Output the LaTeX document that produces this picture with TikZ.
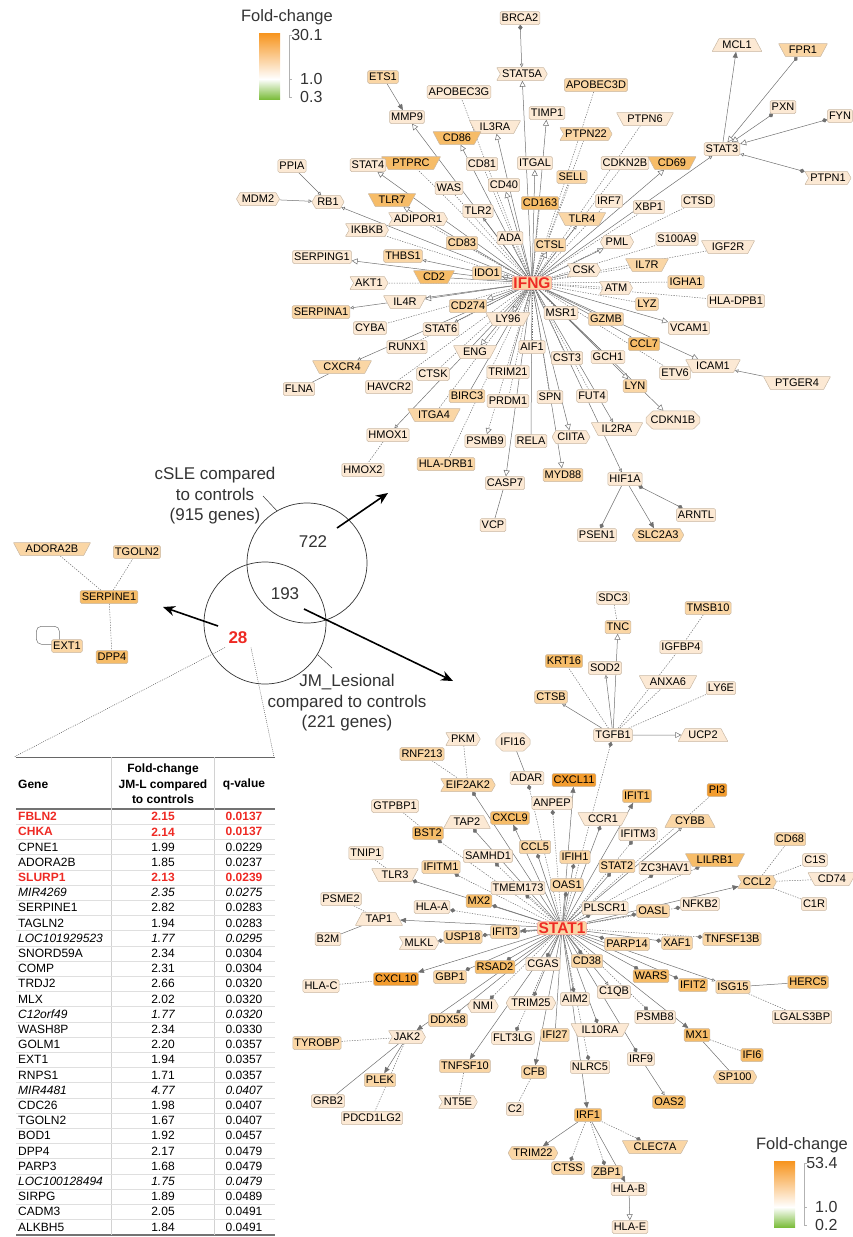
\documentclass[tikz,border=0pt]{standalone}
\usepackage{fontspec}
\setmainfont{Liberation Sans}
\usetikzlibrary{arrows.meta,shapes.geometric,shapes.symbols,shapes.misc,backgrounds}
\definecolor{fca}{HTML}{FCE9D4}
\definecolor{fcb}{HTML}{FAD6A5}
\definecolor{fcc}{HTML}{F6BC68}
\definecolor{fcd}{HTML}{F39C2E}
\definecolor{nbd}{HTML}{C9B8A4}
\definecolor{edg}{HTML}{707070}
\definecolor{hubred}{HTML}{EE2A24}
\definecolor{lgo}{HTML}{F7941D}
\definecolor{lgg}{HTML}{7CBD3C}
\definecolor{vtx}{HTML}{333333}
\newcommand\tcr{\bfseries\color{hubred}}
\newcommand\tci{\itshape}
\newcommand\tcn{}

\begin{document}
\begin{tikzpicture}[x=1pt,y=-1pt,>=Latex,
  gn/.style={draw=nbd,line width=.5pt,rounded corners=1.5pt,inner sep=1.6pt,minimum height=13pt,font=\fontsize{11}{12}\selectfont},
  rcp/.style={gn,rounded corners=.5pt,trapezium,shape border rotate=180,trapezium left angle=62,trapezium right angle=62,inner xsep=.5pt},
  trp/.style={gn,rounded corners=.5pt,trapezium,trapezium left angle=62,trapezium right angle=62,inner xsep=.5pt},
  tfs/.style={gn,rounded corners=.5pt,signal,signal from=west and east,signal pointer angle=120},
  kin/.style={gn,rounded corners=.5pt,signal,signal from=west,signal to=east,signal pointer angle=120},
  pnt/.style={gn,rounded corners=.5pt,signal,signal to=west and east,signal pointer angle=120},
  hex/.style={gn,rounded corners=.5pt,chamfered rectangle,chamfered rectangle xsep=3pt},
  hub/.style={gn,fill=fcb,draw=hubred!50,text=hubred,font=\fontsize{15.5}{16}\selectfont\bfseries,inner sep=1pt},
  ln/.style={draw=edg,line width=.5pt},
  dl/.style={ln,dash pattern=on 1.3pt off 1.3pt},
  ac/.style={ln,-{Triangle[open,length=6pt,width=6pt]}},
  dac/.style={dl,-{Triangle[open,length=6pt,width=6pt]}},
  sa/.style={ln,-{Triangle[open,length=3.5pt,width=3.5pt]}},
  ar/.style={ln,-{Triangle[length=6pt,width=5pt]}},
  dm/.style={ln,-{Diamond[length=5.5pt,width=4.5pt]}},
  ddm/.style={dl,-{Diamond[length=5.5pt,width=4.5pt]}},
  dmo/.style={ln,{Diamond[length=5.5pt,width=4.5pt]}-{Triangle[open,length=6pt,width=6pt]}},
  dms/.style={ln,{Diamond[length=5.5pt,width=4.5pt]}-{Triangle[open,length=3.5pt,width=3.5pt]}},
  dmd/.style={ln,{Diamond[length=5.5pt,width=4.5pt]}-{Diamond[length=5.5pt,width=4.5pt]}},
  vt/.style={font=\fontsize{17}{20.5}\selectfont,text=vtx,align=center},
  bar/.style={line width=1.6pt,-{Stealth[length=12pt,width=10pt]}},
  tcell/.style={font=\fontsize{12}{13}\selectfont,inner sep=0pt},
  tdot/.style={draw=black!70,dash pattern=on .8pt off 1.2pt,line width=.5pt}]
\useasboundingbox (0,0) rectangle (853,1237);

% legends
\foreach \lx/\ly/\hi/\lo in {259/10/30.1/0.3,774/1138/53.4/0.2}{
\begin{scope}[shift={(\lx,\ly)}]
\node[font=\fontsize{16.5}{18}\selectfont,text=vtx] (lt\lx) at (28,7) {Fold-change};
\shade[top color=lgo,bottom color=white] (0,23) rectangle (21,69);\shade[top color=white,bottom color=lgg] (0,69) rectangle (21,89);
\draw[gray!60,line width=1pt] (30,25)--(30,87);\foreach \v in {25,69,87} \draw[gray!60,line width=.6pt] (30,\v)--(33,\v);
\node[font=\fontsize{16}{18}\selectfont,text=vtx,anchor=east] (lh\lx) at (67,25) {\hi};
\node[font=\fontsize{16}{18}\selectfont,text=vtx,anchor=east] (lm\lx) at (67,69) {1.0};
\node[font=\fontsize{16}{18}\selectfont,text=vtx,anchor=east] (ll\lx) at (67,87) {\lo};
\end{scope}}

% IFNG network
\node[hub] (IFNG) at (532,283) {IFNG};
\node[gn,fill=fca] (BRCA2) at (520,18) {BRCA2};\node[tfs,fill=fca] (STAT5A) at (522,74) {STAT5A};
\node[gn,fill=fcb] (ETS1) at (383,77) {ETS1};\node[gn,fill=fca] (APOBEC3G) at (459,92) {APOBEC3G};
\node[gn,fill=fca] (MMP9) at (407,117) {MMP9};\node[rcp,fill=fca] (IL3RA) at (495,127) {IL3RA};
\node[gn,fill=fca] (TIMP1) at (547,113) {TIMP1};\node[gn,fill=fcb] (APOBEC3D) at (596,85) {APOBEC3D};
\node[rcp,fill=fcc] (CD86) at (457,138) {CD86};\node[rcp,fill=fcc] (PTPRC) at (411,163) {PTPRC};
\node[gn,fill=fca] (STAT4) at (368,165) {STAT4};\node[gn,fill=fca] (CD81) at (482,164) {CD81};
\node[gn,fill=fca] (ITGAL) at (535,163) {ITGAL};\node[gn,fill=fca] (PPIA) at (292,166) {PPIA};
\node[gn,fill=fca] (WAS) at (449,188) {WAS};\node[gn,fill=fca] (CD40) at (504,185) {CD40};
\node[gn,fill=fcc] (CD163) at (540,203) {CD163};\node[pnt,fill=fca] (MDM2) at (258,199) {MDM2};
\node[pnt,fill=fca] (RB1) at (328,202) {RB1};\node[rcp,fill=fcc] (TLR7) at (392,200) {TLR7};
\node[gn,fill=fca] (TLR2) at (478,211) {TLR2};\node[tfs,fill=fca] (ADIPOR1) at (418,219) {ADIPOR1};
\node[kin,fill=fca] (IKBKB) at (367,230) {IKBKB};\node[gn,fill=fcb] (CD83) at (462,243) {CD83};
\node[gn,fill=fca] (ADA) at (510,238) {ADA};\node[gn,fill=fcb] (CTSL) at (550,245) {CTSL};
\node[gn,fill=fca] (SERPING1) at (322,257) {SERPING1};\node[gn,fill=fcb] (THBS1) at (403,256) {THBS1};
\node[gn,fill=fcb] (IDO1) at (487,273) {IDO1};\node[rcp,fill=fcc] (CD2) at (434,277) {CD2};
\node[kin,fill=fca] (AKT1) at (369,283) {AKT1};\node[rcp,fill=fca] (IL4R) at (405,302) {IL4R};
\node[gn,fill=fcb] (CD274) at (468,306) {CD274};\node[gn,fill=fcb] (SERPINA1) at (321,312) {SERPINA1};
\node[rcp,fill=fca] (LY96) at (508,319) {LY96};\node[gn,fill=fca] (CYBA) at (370,328) {CYBA};
\node[gn,fill=fca] (STAT6) at (441,329) {STAT6};\node[gn,fill=fca] (RUNX1) at (407,347) {RUNX1};
\node[rcp,fill=fca] (ENG) at (475,352) {ENG};\node[gn,fill=fca] (AIF1) at (532,347) {AIF1};
\node[rcp,fill=fcb] (CXCR4) at (342,367) {CXCR4};\node[gn,fill=fca] (TRIM21) at (508,372) {TRIM21};
\node[gn,fill=fca] (CTSK) at (433,374) {CTSK};\node[gn,fill=fca] (FLNA) at (299,389) {FLNA};
\node[gn,fill=fca] (HAVCR2) at (389,387) {HAVCR2};\node[gn,fill=fcb] (BIRC3) at (467,396) {BIRC3};
\node[gn,fill=fca] (PRDM1) at (508,401) {PRDM1};\node[gn,fill=fca] (SPN) at (550,397) {SPN};
\node[rcp,fill=fcb] (ITGA4) at (434,415) {ITGA4};\node[gn,fill=fca] (HMOX1) at (388,435) {HMOX1};
\node[gn,fill=fca] (PSMB9) at (485,441) {PSMB9};\node[gn,fill=fca] (RELA) at (531,441) {RELA};
\node[gn,fill=fca] (HMOX2) at (363,470) {HMOX2};\node[gn,fill=fcb] (HLADRB1) at (446,464) {HLA-DRB1};
\node[gn,fill=fca] (CASP7) at (505,483) {CASP7};\node[gn,fill=fca] (VCP) at (493,525) {VCP};
\node[trp,fill=fca] (MCL1) at (737,45) {MCL1};\node[rcp,fill=fcb] (FPR1) at (803,50) {FPR1};
\node[gn,fill=fca] (PXN) at (783,107) {PXN};\node[gn,fill=fca] (FYN) at (840,116) {FYN};
\node[rcp,fill=fca] (PTPN6) at (645,119) {PTPN6};\node[kin,fill=fcb] (PTPN22) at (586,134) {PTPN22};
\node[gn,fill=fca] (STAT3) at (722,149) {STAT3};\node[tfs,fill=fca] (PTPN1) at (828,178) {PTPN1};
\node[gn,fill=fca] (CDKN2B) at (625,163) {CDKN2B};\node[rcp,fill=fcc] (CD69) at (672,163) {CD69};
\node[gn,fill=fcb] (SELL) at (572,177) {SELL};\node[gn,fill=fca] (IRF7) at (609,201) {IRF7};
\node[gn,fill=fca] (XBP1) at (649,207) {XBP1};\node[gn,fill=fca] (CTSD) at (698,201) {CTSD};
\node[rcp,fill=fcb] (TLR4) at (582,219) {TLR4};\node[pnt,fill=fca] (PML) at (617,242) {PML};
\node[gn,fill=fca] (S100A9) at (677,239) {S100A9};\node[rcp,fill=fca] (IGF2R) at (728,247) {IGF2R};
\node[kin,fill=fca] (CSK) at (584,270) {CSK};\node[rcp,fill=fcb] (IL7R) at (647,265) {IL7R};
\node[kin,fill=fca] (ATM) at (616,288) {ATM};\node[gn,fill=fcb] (IGHA1) at (686,282) {IGHA1};
\node[gn,fill=fca] (HLADPB1) at (736,301) {HLA-DPB1};\node[gn,fill=fcb] (LYZ) at (647,304) {LYZ};
\node[gn,fill=fca] (MSR1) at (561,313) {MSR1};\node[gn,fill=fcb] (GZMB) at (606,319) {GZMB};
\node[gn,fill=fca] (VCAM1) at (689,328) {VCAM1};\node[gn,fill=fcc] (CCL7) at (644,344) {CCL7};
\node[gn,fill=fca] (CST3) at (567,358) {CST3};\node[gn,fill=fca] (GCH1) at (608,357) {GCH1};
\node[gn,fill=fca] (ETV6) at (675,373) {ETV6};\node[rcp,fill=fca] (ICAM1) at (713,366) {ICAM1};
\node[rcp,fill=fca] (PTGER4) at (797,383) {PTGER4};\node[gn,fill=fcb] (LYN) at (635,386) {LYN};
\node[gn,fill=fca] (FUT4) at (592,396) {FUT4};\node[hex,fill=fca] (CDKN1B) at (673,420) {CDKN1B};
\node[rcp,fill=fca] (IL2RA) at (617,429) {IL2RA};\node[pnt,fill=fca] (CIITA) at (571,437) {CIITA};
\node[gn,fill=fcb] (MYD88) at (563,475) {MYD88};\node[gn,fill=fca] (HIF1A) at (625,479) {HIF1A};
\node[gn,fill=fca] (ARNTL) at (696,515) {ARNTL};\node[gn,fill=fca] (PSEN1) at (597,535) {PSEN1};
\node[pnt,fill=fcb] (SLC2A3) at (658,535) {SLC2A3};

% small network
\node[rcp,fill=fcb] (ADORA2B) at (52,549) {ADORA2B};\node[gn,fill=fcb] (TGOLN2) at (137,552) {TGOLN2};
\node[gn,fill=fcc] (SERPINE1) at (109,597) {SERPINE1};\node[gn,fill=fcb] (EXT1) at (67,646) {EXT1};
\node[gn,fill=fcc] (DPP4) at (112,657) {DPP4};

% STAT1 network
\node[hub] (STAT1) at (562,928) {STAT1};
\node[gn,fill=fca] (SDC3) at (613,598) {SDC3};\node[gn,fill=fcb] (TMSB10) at (708,608) {TMSB10};
\node[gn,fill=fcb] (TNC) at (618,627) {TNC};\node[gn,fill=fca] (IGFBP4) at (681,647) {IGFBP4};
\node[gn,fill=fca] (SOD2) at (605,668) {SOD2};\node[gn,fill=fcc] (KRT16) at (564,661) {KRT16};
\node[rcp,fill=fca] (ANXA6) at (668,682) {ANXA6};\node[gn,fill=fca] (LY6E) at (721,688) {LY6E};
\node[gn,fill=fcb] (CTSB) at (551,697) {CTSB};\node[gn,fill=fca] (TGFB1) at (613,735) {TGFB1};
\node[trp,fill=fca] (UCP2) at (703,735) {UCP2};\node[kin,fill=fca] (PKM) at (463,739) {PKM};
\node[hex,fill=fca] (IFI16) at (513,742) {IFI16};\node[gn,fill=fcb] (RNF213) at (422,754) {RNF213};
\node[kin,fill=fcb] (EIF2AK2) at (468,785) {EIF2AK2};\node[gn,fill=fca] (ADAR) at (527,778) {ADAR};
\node[gn,fill=fcd] (CXCL11) at (574,780) {CXCL11};\node[gn,fill=fca] (ANPEP) at (552,803) {ANPEP};
\node[gn,fill=fca] (GTPBP1) at (395,806) {GTPBP1};\node[trp,fill=fca] (TAP2) at (467,822) {TAP2};
\node[gn,fill=fcc] (CXCL9) at (510,818) {CXCL9};\node[gn,fill=fcc] (BST2) at (428,833) {BST2};
\node[gn,fill=fcc] (IFIT1) at (637,796) {IFIT1};\node[gn,fill=fcd] (PI3) at (717,790) {PI3};
\node[rcp,fill=fca] (CCR1) at (603,819) {CCR1};\node[trp,fill=fcb] (CYBB) at (690,821) {CYBB};
\node[gn,fill=fcb] (CCL5) at (535,847) {CCL5};\node[gn,fill=fca] (TNIP1) at (366,853) {TNIP1};
\node[gn,fill=fca] (SAMHD1) at (488,856) {SAMHD1};\node[gn,fill=fcb] (IFIH1) at (575,857) {IFIH1};
\node[gn,fill=fca] (IFITM3) at (638,834) {IFITM3};\node[gn,fill=fcb] (CD68) at (790,839) {CD68};
\node[gn,fill=fcb] (STAT2) at (617,866) {STAT2};\node[gn,fill=fca] (ZC3HAV1) at (665,868) {ZC3HAV1};
\node[rcp,fill=fcc] (LILRB1) at (715,860) {LILRB1};\node[gn,fill=fca] (C1S) at (815,860) {C1S};
\node[rcp,fill=fca] (CD74) at (832,879) {CD74};\node[gn,fill=fcb] (IFITM1) at (441,867) {IFITM1};
\node[rcp,fill=fca] (TLR3) at (395,875) {TLR3};\node[tfs,fill=fcb] (CCL2) at (757,882) {CCL2};
\node[gn,fill=fcb] (OAS1) at (567,885) {OAS1};\node[gn,fill=fca] (TMEM173) at (518,888) {TMEM173};
\node[gn,fill=fca] (C1R) at (814,904) {C1R};\node[gn,fill=fca] (NFKB2) at (700,904) {NFKB2};
\node[gn,fill=fca] (PSME2) at (341,899) {PSME2};\node[gn,fill=fcc] (MX2) at (479,901) {MX2};
\node[gn,fill=fca] (HLAA) at (432,907) {HLA-A};\node[gn,fill=fca] (PLSCR1) at (605,908) {PLSCR1};
\node[gn,fill=fcb] (OASL) at (653,911) {OASL};\node[trp,fill=fca] (TAP1) at (379,919) {TAP1};
\node[gn,fill=fcb] (IFIT3) at (505,932) {IFIT3};\node[gn,fill=fcb] (USP18) at (463,937) {USP18};
\node[gn,fill=fca] (B2M) at (328,939) {B2M};\node[gn,fill=fcb] (TNFSF13B) at (732,939) {TNFSF13B};
\node[kin,fill=fca] (MLKL) at (419,943) {MLKL};\node[gn,fill=fcb] (PARP14) at (627,944) {PARP14};
\node[gn,fill=fcb] (XAF1) at (677,943) {XAF1};\node[gn,fill=fcb] (CD38) at (587,961) {CD38};
\node[gn,fill=fca] (CGAS) at (543,964) {CGAS};\node[gn,fill=fcc] (RSAD2) at (495,967) {RSAD2};
\node[gn,fill=fcb] (GBP1) at (450,977) {GBP1};\node[gn,fill=fcc] (WARS) at (651,976) {WARS};
\node[gn,fill=fcd] (CXCL10) at (396,979) {CXCL10};\node[gn,fill=fca] (HLAC) at (321,986) {HLA-C};
\node[gn,fill=fcc] (IFIT2) at (693,985) {IFIT2};\node[gn,fill=fcb] (ISG15) at (733,987) {ISG15};
\node[gn,fill=fcc] (HERC5) at (808,982) {HERC5};\node[gn,fill=fca] (C1QB) at (614,992) {C1QB};
\node[gn,fill=fca] (AIM2) at (575,999) {AIM2};\node[pnt,fill=fca] (TRIM25) at (531,1003) {TRIM25};
\node[pnt,fill=fca] (NMI) at (483,1006) {NMI};\node[gn,fill=fca] (PSMB8) at (655,1017) {PSMB8};
\node[gn,fill=fca] (LGALS3BP) at (802,1017) {LGALS3BP};\node[gn,fill=fcb] (DDX58) at (448,1020) {DDX58};
\node[rcp,fill=fca] (IL10RA) at (600,1030) {IL10RA};\node[gn,fill=fcc] (MX1) at (697,1035) {MX1};
\node[kin,fill=fca] (JAK2) at (407,1037) {JAK2};\node[gn,fill=fcb] (TYROBP) at (317,1043) {TYROBP};
\node[gn,fill=fca] (FLT3LG) at (513,1038) {FLT3LG};\node[gn,fill=fcb] (IFI27) at (555,1035) {IFI27};
\node[gn,fill=fcc] (IFI6) at (752,1055) {IFI6};\node[gn,fill=fca] (IRF9) at (641,1059) {IRF9};
\node[gn,fill=fcb] (TNFSF10) at (465,1066) {TNFSF10};\node[gn,fill=fca] (NLRC5) at (590,1067) {NLRC5};
\node[gn,fill=fcb] (CFB) at (534,1072) {CFB};\node[pnt,fill=fcb] (SP100) at (735,1077) {SP100};
\node[gn,fill=fcb] (PLEK) at (380,1080) {PLEK};\node[gn,fill=fca] (GRB2) at (328,1101) {GRB2};
\node[gn,fill=fca] (PDCD1LG2) at (372,1118) {PDCD1LG2};\node[tfs,fill=fca] (NT5E) at (458,1102) {NT5E};
\node[gn,fill=fcc] (OAS2) at (669,1102) {OAS2};\node[gn,fill=fca] (C2) at (515,1109) {C2};
\node[gn,fill=fcc] (IRF1) at (588,1115) {IRF1};\node[rcp,fill=fcb] (CLEC7A) at (655,1147) {CLEC7A};
\node[pnt,fill=fcb] (TRIM22) at (533,1153) {TRIM22};\node[gn,fill=fcb] (CTSS) at (568,1168) {CTSS};
\node[gn,fill=fcb] (ZBP1) at (607,1172) {ZBP1};\node[gn,fill=fca] (HLAB) at (629,1189) {HLA-B};
\node[gn,fill=fca] (HLAE) at (630,1227) {HLA-E};

\begin{scope}[on background layer]
\foreach \nd in {STAT5A,MMP9,IL3RA,TIMP1,CD86,STAT4,ITGAL,CD40,TLR7,CTSL,SERPING1,IDO1,IL4R,CD274,LY96,ENG,CASP7,VCAM1,ICAM1,LYN,CDKN1B,CIITA,MYD88,CD69,PML} \draw[ac] (IFNG)--(\nd);
\foreach \nd in {RB1,TLR2,THBS1,SERPINA1,STAT6,CXCR4,HMOX1,IL2RA,HIF1A,STAT3,TLR4} \draw[sa] (IFNG)--(\nd);
\foreach \nd in {APOBEC3G,APOBEC3D,PTPRC,CD81,WAS,CD163,ADIPOR1,IKBKB,CD83,ADA,AKT1,CYBA,RUNX1,AIF1,CTSK,HAVCR2,PRDM1,SPN,ITGA4,HLADRB1,MSR1,CST3,FUT4,ATM,IL7R,LYZ,IGHA1,HLADPB1,ETV6,CDKN2B,PTPN6,PTPN22,SELL,IRF7,XBP1,CTSD,S100A9,IGF2R} \draw[dl] (IFNG)--(\nd);
\foreach \nd in {CD2,TRIM21,BIRC3,RELA,GCH1,GZMB,CSK,CCL7} \draw[ln] (IFNG)--(\nd);
\draw[dac] (IFNG)--(PSMB9);\draw[dms] (BRCA2)--(STAT5A);\draw[ar] (ETS1)--(MMP9);
\draw[sa] (PPIA)--(RB1);\draw[sa] (MDM2)--(RB1);\draw[ln] (CXCR4)--(FLNA);\draw[dl] (HMOX1)--(HMOX2);
\draw[ln] (CASP7)--(VCP);\draw[sa] (PTGER4)--(ICAM1);
\draw[dmd] (HIF1A)--(ARNTL);\draw[dm] (HIF1A)--(PSEN1);\draw[ar] (HIF1A)--(SLC2A3);
\draw[ar] (STAT3)--(MCL1);\foreach \nd in {FPR1,PXN,FYN} \draw[dmo] (\nd)--(STAT3);\draw[dms] (PTPN1)--(STAT3);
\foreach \nd in {ADORA2B,TGOLN2,DPP4} \draw[dl] (SERPINE1)--(\nd);
\foreach \nd in {CXCL11,CXCL9,TAP1,IFIT3,CXCL10,JAK2,TNFSF10,CFB,IRF1,IFIT1,CCL2,MX1} \draw[ar] (STAT1)--(\nd);
\foreach \nd in {CYBB,C1QB,ISG15} \draw[sa] (STAT1)--(\nd);
\foreach \nd in {EIF2AK2,TAP2,CCL5,TLR3,MX2,USP18,GBP1,RSAD2,CGAS,TRIM25,DDX58,AIM2,IRF9,CD38,WARS,IFIT2,PARP14,XAF1,OASL,PLSCR1,STAT2,CCR1,IFIH1,OAS1,IL10RA} \draw[dm] (STAT1)--(\nd);
\foreach \nd in {TGFB1,ADAR,ANPEP,BST2,SAMHD1,IFITM1,TMEM173,HLAA,MLKL,NMI,FLT3LG,NLRC5,PSMB8,TNFSF13B,NFKB2,LILRB1,ZC3HAV1,IFITM3} \draw[ddm] (STAT1)--(\nd);
\draw[dl] (STAT1)--(PI3);\draw[ln] (STAT1)--(IFI27);
\foreach \nd in {KRT16,IGFBP4,ANXA6,LY6E} \draw[dl] (TGFB1)--(\nd);
\draw[sa] (TGFB1)--(CTSB);\draw[sa] (TGFB1)--(SOD2);\draw[ac] (TGFB1)--(TNC);\draw[ac] (TGFB1)--(UCP2);
\draw[dl] (SDC3)--(TNC);\draw[dl] (TMSB10)--(IGFBP4);
\draw[dl] (PKM)--(EIF2AK2);\draw[dl] (RNF213)--(EIF2AK2);\draw[ln] (IFI16)--(ADAR);
\draw[dl] (GTPBP1)--(BST2);\draw[dl] (TNIP1)--(TLR3);\draw[dl] (PSME2)--(TAP1);\draw[ln] (B2M)--(TAP1);
\draw[dl] (HLAC)--(CXCL10);\draw[dl] (TYROBP)--(JAK2);\draw[ar] (JAK2)--(PLEK);\draw[ln] (JAK2)--(GRB2);\draw[dl] (JAK2)--(PDCD1LG2);
\draw[dl] (TNFSF10)--(NT5E);\draw[dl] (CFB)--(C2);
\draw[ar] (IRF1)--(TRIM22);\foreach \nd in {CTSS,ZBP1,CLEC7A} \draw[ddm] (IRF1)--(\nd);\draw[ar] (IRF1)--(HLAB);\draw[ac] (HLAB)--(HLAE);
\draw[sa] (IRF9)--(OAS2);\draw[dl] (MX1)--(IFI6);\draw[ln] (MX1)--(SP100);
\draw[ln] (ISG15)--(HERC5);\draw[dl] (ISG15)--(LGALS3BP);
\foreach \nd in {CD68,C1S,CD74,C1R} \draw[dl] (CCL2)--(\nd);
\end{scope}
\draw[ln,rounded corners=5pt] ([xshift=8pt]EXT1.north west)--++(0,-13)--++(-23,0)--++(0,18)--([yshift=-5pt]EXT1.north west);

% Venn
\node[circle,draw=vtx,line width=.7pt,minimum size=120pt] (cSLE) at (307,563) {};
\node[circle,draw=vtx,line width=.7pt,minimum size=122pt] (cJM) at (265,623) {};
\node[vt] (lSLE) at (215,496) {cSLE compared\\to controls\\(915 genes)};
\node[vt] (lJM) at (347,703) {JM\_Lesional\\compared to controls\\(221 genes)};
\coordinate (kSLE) at (263,496);\coordinate (kJM) at (332,668);
\draw[vtx,line width=.5pt] (cSLE.120)--(kSLE);\draw[vtx,line width=.5pt] (cJM.-31)--(kJM);
\node[vt] (n722) at (313,542) {722};\node[vt] (n193) at (285,594) {193};
\node[vt,text=hubred,font=\fontsize{17}{20}\selectfont\bfseries] (n28) at (238,638) {28};
\coordinate (a1) at (337,528);\coordinate (b1) at (388,493);\coordinate (a2) at (304,609);\coordinate (b2) at (453,681);
\coordinate (a3) at (218,626);\coordinate (b3) at (163,607);
\draw[bar] (a1)--(b1);\draw[bar] (a2)--(b2);\draw[bar] (a3)--(b3);
\coordinate (tl) at (14,757);\coordinate (tr) at (274,757);
\draw[tdot] (n28.south west)--(tl);\draw[tdot] (n28.south east)--(tr);

% table
\draw[black!60,line width=.8pt] (16,757)--(275,757);
\draw[black!55,line width=1.4pt] (16,809)--(275,809);\draw[black!55,line width=1.4pt] (16,1235)--(275,1235);
\foreach \c in {111,214} \draw[gray!35,line width=.6pt] (\c,757)--(\c,1235);
\foreach \i in {1,...,27} \draw[gray!25,line width=.5pt] (16,{809+\i*15.2})--(275,{809+\i*15.2});
\node[tcell,font=\fontsize{12}{15.3}\selectfont\bfseries,anchor=west] (hg) at (18,784) {Gene};
\node[tcell,font=\fontsize{12}{15.3}\selectfont\bfseries,align=center] (hf) at (163,784) {Fold-change\\JM-L compared\\to controls};
\node[tcell,font=\fontsize{12}{15.3}\selectfont\bfseries] (hq) at (244,784) {q-value};
\foreach \g/\f/\q/\s [count=\i] in {FBLN2/2.15/0.0137/\tcr,CHKA/2.14/0.0137/\tcr,CPNE1/1.99/0.0229/\tcn,ADORA2B/1.85/0.0237/\tcn,SLURP1/2.13/0.0239/\tcr,MIR4269/2.35/0.0275/\tci,SERPINE1/2.82/0.0283/\tcn,TAGLN2/1.94/0.0283/\tcn,LOC101929523/1.77/0.0295/\tci,SNORD59A/2.34/0.0304/\tcn,COMP/2.31/0.0304/\tcn,TRDJ2/2.66/0.0320/\tcn,MLX/2.02/0.0320/\tcn,C12orf49/1.77/0.0320/\tci,WASH8P/2.34/0.0330/\tcn,GOLM1/2.20/0.0357/\tcn,EXT1/1.94/0.0357/\tcn,RNPS1/1.71/0.0357/\tcn,MIR4481/4.77/0.0407/\tci,CDC26/1.98/0.0407/\tcn,TGOLN2/1.67/0.0407/\tcn,BOD1/1.92/0.0457/\tcn,DPP4/2.17/0.0479/\tcn,PARP3/1.68/0.0479/\tcn,LOC100128494/1.75/0.0479/\tci,SIRPG/1.89/0.0489/\tcn,CADM3/2.05/0.0491/\tcn,ALKBH5/1.84/0.0491/\tcn}{
\node[tcell,anchor=west] (tg\i) at (18,{816.6+(\i-1)*15.2}) {\s\g};
\node[tcell] (tf\i) at (163,{816.6+(\i-1)*15.2}) {\s\f};
\node[tcell] (tq\i) at (244,{816.6+(\i-1)*15.2}) {\s\q};}
\end{tikzpicture}
\end{document}
